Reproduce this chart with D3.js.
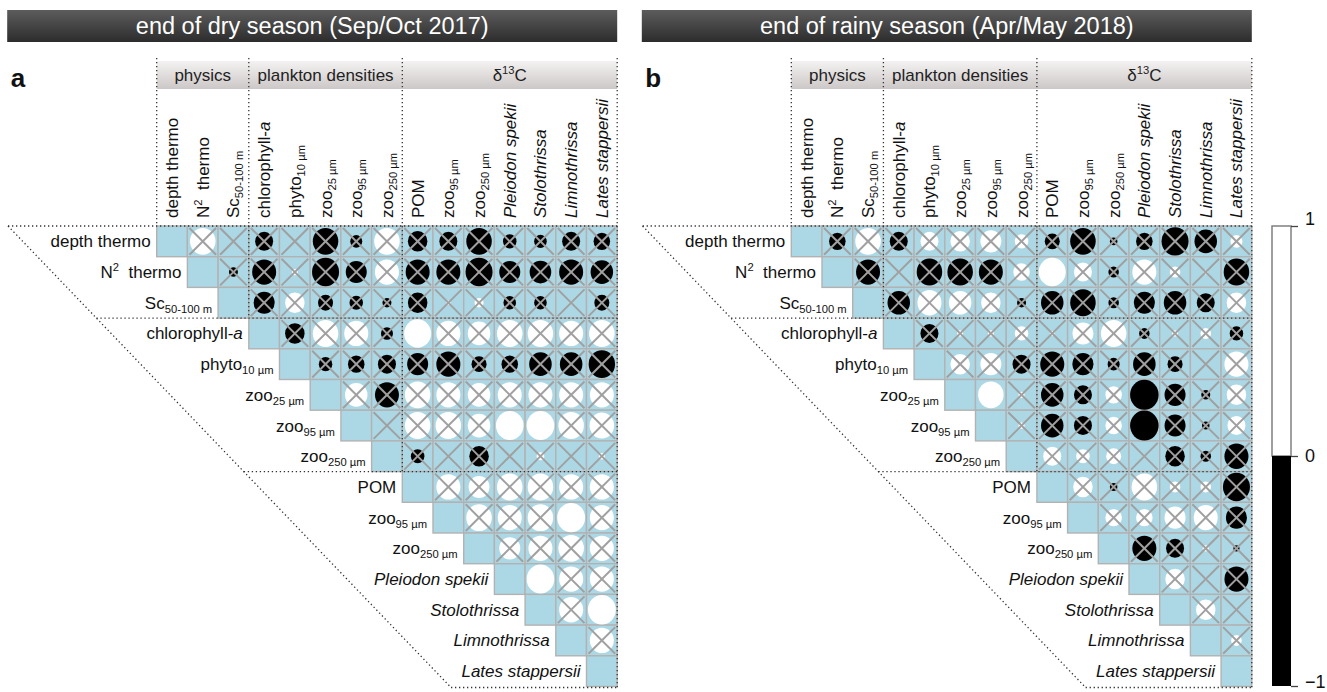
<!DOCTYPE html>
<html><head><meta charset="utf-8">
<script src="https://cdn.jsdelivr.net/npm/d3@7"></script>
<style>body{margin:0;background:#fff}svg{display:block}text{font-family:"Liberation Sans",Arial,sans-serif}</style>
</head><body><svg id="c" width="1327" height="692"></svg>
<script>
// ---------- DATA ----------
const variables = ["depth thermo","N2 thermo","Sc50-100 m","chlorophyll-a","phyto10","zoo25","zoo95","zoo250",
  "POM","d13C zoo95","d13C zoo250","Pleiodon spekii","Stolothrissa","Limnothrissa","Lates stappersii"];
// label segments: [text, style] style: n normal, sub, sup, it italic
const labelParts = [
  [["depth thermo","n"]],
  [["N","n"],["2","sup"],["\u00a0 thermo","n"]],
  [["Sc","n"],["50-100 m","sub"]],
  [["chlorophyll-","n"],["a","it"]],
  [["phyto","n"],["10 µm","sub"]],
  [["zoo","n"],["25 µm","sub"]],
  [["zoo","n"],["95 µm","sub"]],
  [["zoo","n"],["250 µm","sub"]],
  [["POM","n"]],
  [["zoo","n"],["95 µm","sub"]],
  [["zoo","n"],["250 µm","sub"]],
  [["Pleiodon spekii","it"]],
  [["Stolothrissa","it"]],
  [["Limnothrissa","it"]],
  [["Lates stappersii","it"]]
];
const groupNames = ["physics","plankton densities","δ13C"];
const groupStart = [0,3,8];
const groupEnd = [3,8,15];
const panelTitles = ["end of dry season (Sep/Oct 2017)","end of rainy season (Apr/May 2018)"];
const panelLetters = ["a","b"];

// upper triangle: row i holds correlations with columns i+1..14
const corrDry = [
  [0.85,0.03,-0.6,0.02,-0.85,-0.4,0.85,-0.65,-0.6,-0.85,-0.45,-0.42,-0.6,-0.55],
  [-0.3,-0.8,0.2,-0.9,-0.7,0.8,-0.8,-0.8,-0.9,-0.7,-0.72,-0.8,-0.75],
  [-0.7,0.65,-0.5,-0.45,-0.3,-0.65,0.15,0.3,-0.42,-0.42,0.1,-0.5],
  [-0.65,0.85,0.8,-0.4,0.9,0.8,0.75,0.85,0.85,0.8,0.85],
  [-0.45,-0.55,-0.6,-0.7,-0.8,-0.5,-0.55,-0.75,-0.75,-0.88],
  [0.75,-0.8,0.85,0.8,0.75,0.8,0.8,0.8,0.8],
  [0.05,0.85,0.85,0.75,0.92,0.92,0.85,0.82],
  [-0.45,0.02,-0.65,0.1,0.25,0.02,0.2],
  [0.8,0.7,0.85,0.85,0.8,0.8],
  [0.85,0.8,0.85,0.93,0.8],
  [0.7,0.8,0.85,0.8],
  [0.92,0.8,0.8],
  [0.8,0.93],
  [0.8]
];
const sigDry = [[3,8],[6,11],[6,12],[9,13],[11,12],[12,14]];

const corrRainy = [
  [-0.55,0.85,-0.6,0.6,0.65,0.7,0.45,-0.5,-0.85,-0.25,-0.55,-0.9,-0.75,0.4],
  [-0.8,0.1,-0.85,-0.85,-0.8,0.55,0.9,0.6,-0.35,0.8,0.35,0.15,-0.85],
  [-0.75,0.8,0.75,0.65,-0.3,-0.75,-0.85,-0.35,-0.7,-0.75,-0.6,0.65],
  [-0.6,0.2,0.2,0.45,0.15,0.7,0.85,-0.35,0.2,0.35,-0.45],
  [0.65,0.7,-0.6,-0.8,-0.7,-0.4,-0.75,-0.5,0.1,0.8],
  [0.85,0.2,-0.75,-0.6,0.55,-0.95,-0.7,-0.3,0.65],
  [0.2,-0.75,-0.6,0.55,-0.95,-0.7,-0.25,0.6],
  [0.6,0.45,0.5,0.03,-0.65,-0.35,-0.8],
  [0.65,-0.25,0.85,0.35,0.35,-0.9],
  [0.55,0.55,0.7,0.8,-0.7],
  [-0.8,-0.6,0.2,-0.2],
  [0.65,0.1,-0.8],
  [0.65,0.02],
  [0.35]
];
const sigRainy = [[1,8],[5,6],[5,11],[6,11]];
const colorbarTicks = [-1,0,1];

// ---------- LAYOUT ----------
const svg = d3.select("#c");
const cell = 30.7;
const gridTop = 226;
const n = variables.length;
const FS = 17;
const blue = "#acd8e6";

const defs = svg.append("defs");
const tg = defs.append("linearGradient").attr("id","titleGrad").attr("x1",0).attr("y1",0).attr("x2",0).attr("y2",1);
tg.append("stop").attr("offset","0%").attr("stop-color","#5c5c5c");
tg.append("stop").attr("offset","100%").attr("stop-color","#2c2c2c");
const hg = defs.append("linearGradient").attr("id","headGrad").attr("x1",0).attr("y1",0).attr("x2",0).attr("y2",1);
hg.append("stop").attr("offset","0%").attr("stop-color","#f4f2f2");
hg.append("stop").attr("offset","100%").attr("stop-color","#cdc8c8");

function writeLabel(textSel, parts, fs){
  let off = 0;
  parts.forEach(([t,s])=>{
    const ts = textSel.append("tspan").text(t);
    let target = 0, size = fs;
    if(s==="sub"){ size = fs*0.66; target = 4; }
    if(s==="sup"){ size = fs*0.66; target = -7; }
    if(s==="it"){ ts.attr("font-style","italic"); }
    ts.attr("font-size", size);
    if(target !== off){ ts.attr("dy", target-off); off = target; }
  });
}

function drawPanel(p){
  const x0 = p.x0;
  const g = svg.append("g");
  const x = d3.scaleBand().domain(d3.range(n)).range([x0, x0+n*cell]).padding(0);
  const y = d3.scaleBand().domain(d3.range(n)).range([gridTop, gridTop+n*cell]).padding(0);
  const r = d3.scaleLinear().domain([0,1]).range([0, 15.8]);
  const right = x0 + n*cell, bottom = gridTop + n*cell;

  // title bar
  const tx0 = x0 - 149.5, tx1 = right;
  g.append("rect").attr("x",tx0).attr("y",10).attr("width",tx1-tx0).attr("height",32).attr("fill","url(#titleGrad)");
  g.append("text").attr("x",(tx0+tx1)/2).attr("y",34).attr("text-anchor","middle").attr("fill","#fff")
    .attr("font-size",23.5).text(p.title);
  g.append("text").attr("x",x0-146).attr("y",87).attr("font-size",26).attr("font-weight","bold").attr("fill","#111").text(p.letter);

  // group header
  g.append("rect").attr("x",x0).attr("y",61).attr("width",n*cell).attr("height",28).attr("fill","url(#headGrad)");
  groupNames.forEach((name,k)=>{
    const cx = (x(groupStart[k]) + x(groupEnd[k]-1)+cell)/2;
    const t = g.append("text").attr("x",cx).attr("y",81).attr("text-anchor","middle").attr("font-size",FS).attr("fill","#222");
    if(name.startsWith("δ")) writeLabel(t,[["δ","n"],["13","sup"],["C","n"]],FS);
    else t.text(name);
  });

  // column labels
  labelParts.forEach((parts,i)=>{
    const t = g.append("text").attr("transform",`translate(${x(i)+cell/2+6},218) rotate(-90)`)
      .attr("font-size",FS).attr("fill","#111");
    writeLabel(t,parts,FS);
  });

  // cells (upper triangle incl. diagonal)
  const cells = [];
  for(let i=0;i<n;i++) for(let j=i;j<n;j++){
    const v = j===i ? null : p.corr[i][j-i-1];
    const sig = p.sig.some(s=>s[0]===i && s[1]===j);
    cells.push({i,j,v,sig});
  }
  const cg = g.append("g");
  cg.selectAll("rect.cell").data(cells).join("rect").attr("class","cell")
    .attr("x",d=>x(d.j)).attr("y",d=>y(d.i)).attr("width",cell).attr("height",cell)
    .attr("fill",blue).attr("stroke","#b2b2b2").attr("stroke-width",1.4);
  const off = cells.filter(d=>d.v!==null);
  cg.selectAll("ellipse").data(off).join("ellipse")
    .attr("cx",d=>x(d.j)+cell/2).attr("cy",d=>y(d.i)+cell/2)
    .attr("rx",d=>r(Math.abs(d.v))*0.95).attr("ry",d=>r(Math.abs(d.v)))
    .attr("fill",d=>d.v<0?"#000":"#fff");
  const ns = off.filter(d=>!d.sig);
  const ins = 2;
  cg.selectAll("line.x1").data(ns).join("line").attr("class","x1")
    .attr("x1",d=>x(d.j)+ins).attr("y1",d=>y(d.i)+ins).attr("x2",d=>x(d.j)+cell-ins).attr("y2",d=>y(d.i)+cell-ins)
    .attr("stroke","#a0a0a0").attr("stroke-width",2);
  cg.selectAll("line.x2").data(ns).join("line").attr("class","x2")
    .attr("x1",d=>x(d.j)+cell-ins).attr("y1",d=>y(d.i)+ins).attr("x2",d=>x(d.j)+ins).attr("y2",d=>y(d.i)+cell-ins)
    .attr("stroke","#a0a0a0").attr("stroke-width",2);

  // row labels
  labelParts.forEach((parts,i)=>{
    const t = g.append("text").attr("x",x(i)-6).attr("y",y(i)+cell/2+6).attr("text-anchor","end")
      .attr("font-size",FS).attr("fill","#111");
    writeLabel(t,parts,FS);
  });

  // dotted lines
  const dl = g.append("g").attr("stroke","#333").attr("stroke-width",1.3).attr("stroke-dasharray","1.3 2.7").attr("fill","none");
  const dTop = {x: x0-148.7, y: gridTop}, dBot = {x: x0+294.3, y: bottom+1};
  const diagX = yy => dTop.x + (yy-dTop.y)*(dBot.x-dTop.x)/(dBot.y-dTop.y);
  dl.append("line").attr("x1",dTop.x).attr("y1",dTop.y).attr("x2",dBot.x).attr("y2",dBot.y);
  dl.append("line").attr("x1",dTop.x).attr("y1",gridTop).attr("x2",right).attr("y2",gridTop);
  [3,8].forEach(k=>{
    const yy = y(k);
    dl.append("line").attr("x1",diagX(yy)).attr("y1",yy).attr("x2",right).attr("y2",yy);
  });
  dl.append("line").attr("x1",dBot.x).attr("y1",bottom+1).attr("x2",right).attr("y2",bottom+1);
  dl.append("line").attr("x1",x0).attr("y1",58).attr("x2",x0).attr("y2",gridTop);
  [3,8].forEach(k=>{
    dl.append("line").attr("x1",x(k)).attr("y1",58).attr("x2",x(k)).attr("y2",y(k));
  });
  dl.append("line").attr("x1",right).attr("y1",58).attr("x2",right).attr("y2",bottom+1);
}

drawPanel({x0:156.7, title:panelTitles[0], letter:panelLetters[0], corr:corrDry, sig:sigDry});
drawPanel({x0:791.3, title:panelTitles[1], letter:panelLetters[1], corr:corrRainy, sig:sigRainy});

// colorbar
const cb = d3.scaleLinear().domain([-1,1]).range([686,226]);
const cbx = 1272, cbw = 19;
svg.append("rect").attr("x",cbx).attr("y",cb(1)).attr("width",cbw).attr("height",cb(0)-cb(1))
  .attr("fill","#fff").attr("stroke","#808080").attr("stroke-width",1.5);
svg.append("rect").attr("x",cbx).attr("y",cb(0)).attr("width",cbw).attr("height",cb(-1)-cb(0)).attr("fill","#000");
const ax = svg.append("g").attr("transform",`translate(${cbx+cbw},0)`)
  .call(d3.axisRight(cb).tickValues(colorbarTicks).tickSize(7).tickPadding(7).tickFormat(d3.format("d")));
ax.select(".domain").remove();
ax.selectAll(".tick line").attr("stroke","#444").attr("stroke-width",1.3);
ax.selectAll(".tick text").attr("font-size",18).attr("fill","#111").attr("font-family","Liberation Sans, Arial, sans-serif");
ax.selectAll(".tick").filter(d=>d===1).select("text").attr("dy","-0.1em");
ax.selectAll(".tick").filter(d=>d===-1).select("text").attr("dy","0.1em");
</script></body></html>
